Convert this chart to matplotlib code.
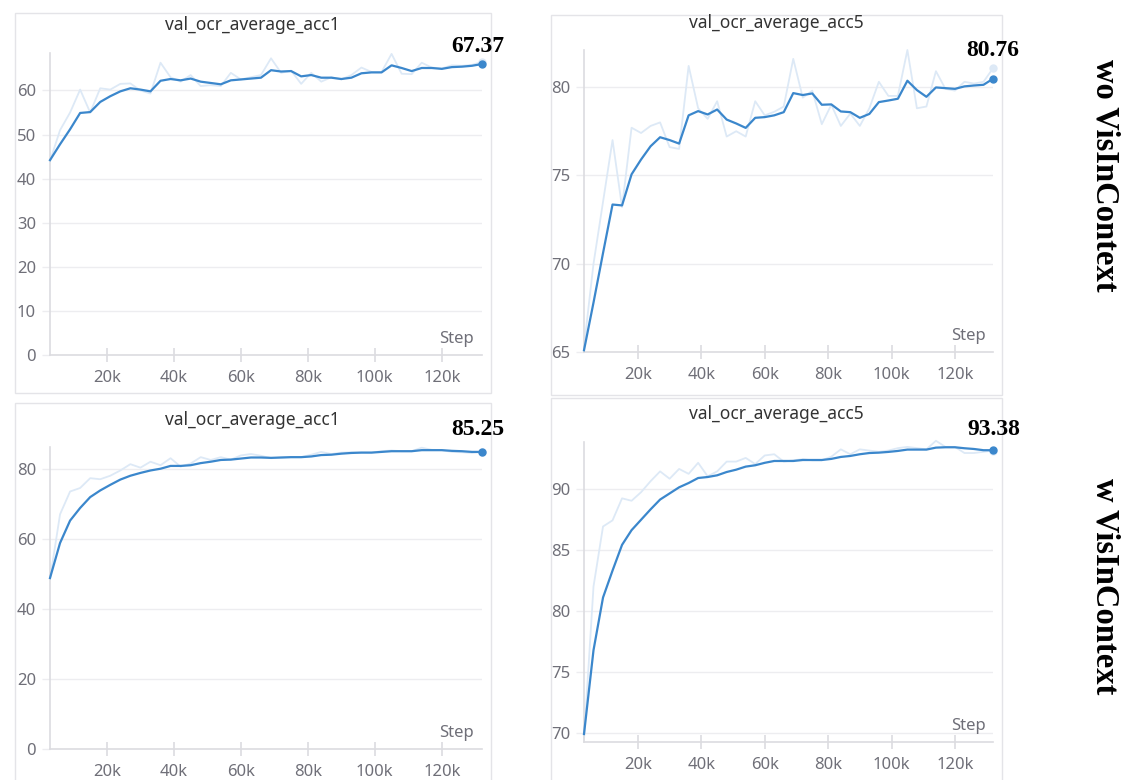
import matplotlib
matplotlib.use("Agg")
import matplotlib.pyplot as plt
from matplotlib.patches import Rectangle
from matplotlib.ticker import FuncFormatter

# step positions (thousands)
steps_k = [3, 6, 9, 12, 15, 18, 21, 24, 27, 30, 33, 36, 39, 42, 45, 48, 51, 54,
           57, 60, 63, 66, 69, 72, 75, 78, 81, 84, 87, 90, 93, 96, 99, 102, 105,
           108, 111, 114, 117, 120, 123, 126, 129, 132]

# wo VisInContext, acc1
wo_acc1_raw = [44.0, 51.0, 55.0, 60.2, 55.0, 60.5, 60.2, 61.5, 61.6, 60.0, 59.3, 66.3,
               63.0, 62.0, 63.5, 61.0, 61.2, 61.0, 64.0, 62.5, 63.0, 63.5, 67.3, 64.0,
               64.5, 61.5, 64.0, 62.0, 63.0, 62.5, 63.5, 65.2, 64.2, 64.2, 68.3, 63.8,
               63.7, 66.3, 65.2, 65.0, 65.7, 65.6, 65.8, 66.5]
wo_acc1_smooth = [44.2, 47.8, 51.2, 54.9, 55.1, 57.4, 58.7, 59.8, 60.5, 60.2, 59.8, 62.2,
                  62.6, 62.3, 62.7, 62.0, 61.7, 61.4, 62.3, 62.5, 62.7, 62.9, 64.6, 64.3,
                  64.4, 63.2, 63.5, 62.9, 62.9, 62.6, 62.9, 63.9, 64.1, 64.1, 65.7, 65.1,
                  64.4, 65.1, 65.1, 64.9, 65.3, 65.4, 65.6, 66.0]

# wo VisInContext, acc5
wo_acc5_raw = [65.3, 70.0, 73.5, 77.0, 73.2, 77.7, 77.4, 77.8, 78.0, 76.6, 76.5, 81.2,
               78.8, 78.2, 79.2, 77.2, 77.5, 77.2, 79.2, 78.4, 78.6, 78.9, 81.6, 79.4,
               79.8, 77.9, 79.0, 77.8, 78.5, 77.8, 78.8, 80.3, 79.5, 79.5, 82.1, 78.8,
               78.9, 80.9, 79.9, 79.8, 80.3, 80.2, 80.3, 81.06]
wo_acc5_smooth = [65.1, 67.8, 70.6, 73.35, 73.3, 75.06, 75.9, 76.65, 77.16, 77.0, 76.8, 78.4,
                  78.64, 78.45, 78.73, 78.16, 77.94, 77.69, 78.26, 78.3, 78.4, 78.58, 79.66, 79.55,
                  79.64, 79.0, 79.02, 78.62, 78.58, 78.26, 78.48, 79.15, 79.24, 79.34, 80.36, 79.83,
                  79.45, 79.98, 79.94, 79.9, 80.04, 80.09, 80.13, 80.47]

# w VisInContext, acc1
w_acc1_raw = [48.5, 67.0, 73.5, 74.5, 77.3, 77.0, 78.0, 79.5, 81.3, 80.3, 82.0, 81.0,
              83.0, 80.6, 81.5, 83.3, 82.5, 83.3, 82.6, 83.8, 84.2, 83.7, 83.0, 83.2,
              83.3, 83.3, 84.0, 84.8, 84.2, 84.6, 84.7, 84.6, 84.6, 85.0, 85.2, 85.0,
              85.0, 86.0, 85.4, 85.3, 84.8, 84.7, 84.5, 84.8]
w_acc1_smooth = [48.8, 58.8, 65.2, 68.8, 71.9, 73.8, 75.4, 76.9, 78.0, 78.8, 79.5, 80.0,
                 80.8, 80.8, 81.0, 81.6, 82.0, 82.5, 82.6, 82.9, 83.2, 83.2, 83.1, 83.2,
                 83.3, 83.3, 83.5, 83.9, 84.0, 84.3, 84.5, 84.6, 84.6, 84.8, 85.0, 85.0,
                 85.0, 85.3, 85.3, 85.3, 85.1, 85.0, 84.8, 84.8]

# w VisInContext, acc5
w_acc5_raw = [69.5, 82.0, 86.9, 87.4, 89.2, 89.0, 89.7, 90.6, 91.4, 90.8, 91.6, 91.2,
              92.1, 91.0, 91.4, 92.2, 92.2, 92.5, 92.0, 92.7, 92.8, 92.2, 92.3, 92.4,
              92.3, 92.3, 92.6, 93.2, 92.8, 93.2, 93.1, 93.0, 93.1, 93.3, 93.4, 93.3,
              93.2, 93.9, 93.4, 93.4, 92.9, 92.9, 93.0, 93.1]
w_acc5_smooth = [69.95, 76.8, 81.1, 83.3, 85.4, 86.6, 87.45, 88.3, 89.1, 89.6, 90.1, 90.45,
                 90.86, 90.94, 91.08, 91.35, 91.54, 91.79, 91.9, 92.1, 92.25, 92.25, 92.25, 92.33,
                 92.33, 92.33, 92.42, 92.58, 92.66, 92.8, 92.9, 92.93, 92.99, 93.07, 93.18, 93.18,
                 93.18, 93.34, 93.37, 93.37, 93.29, 93.23, 93.13, 93.13]

titles = ["val_ocr_average_acc1", "val_ocr_average_acc5",
          "val_ocr_average_acc1", "val_ocr_average_acc5"]
final_labels = ["67.37", "80.76", "85.25", "93.38"]
row_labels = ["wo VisInContext", "w VisInContext"]
yticks_list = [[0, 10, 20, 30, 40, 50, 60], [65, 70, 75, 80],
               [0, 20, 40, 60, 80], [70, 75, 80, 85, 90]]
ylims = [(0, 68.5), (65, 82.1), (0, 86.2), (69.3, 93.8)]
xticks = [20000, 40000, 60000, 80000, 100000, 120000]

W, H = 1130, 780
fig = plt.figure(figsize=(W / 100, H / 100), dpi=100)
fig.patch.set_facecolor("white")

SMOOTH = "#3b87cc"
RAW = "#dde9f6"
GRID = "#ededf0"
SPINE = "#dcdce0"
TICKC = "#6f6f78"
FONT = "Noto Sans"

# card boxes (left, top, right, bottom) in pixels and axes boxes
cards = [(15, 13, 491, 393), (551, 15, 1002, 395),
         (15, 403, 491, 790), (551, 398, 1002, 790)]
boxes = [(50, 53, 482, 355), (584, 50, 993, 352),
         (50, 447, 482, 749), (584, 442, 993, 742)]
title_pos = [(252, 25), (776, 23), (252, 420), (776, 414)]
label_pos = [(478, 47), (993, 50), (478, 429), (994, 429)]
row_pos = [(1105, 175), (1105, 586)]

series = [(wo_acc1_raw, wo_acc1_smooth), (wo_acc5_raw, wo_acc5_smooth),
          (w_acc1_raw, w_acc1_smooth), (w_acc5_raw, w_acc5_smooth)]

steps = [s * 1000 for s in steps_k]

for i in range(4):
    cl, ct, cr, cb = cards[i]
    fig.patches.append(Rectangle((cl / W, 1 - cb / H), (cr - cl) / W, (cb - ct) / H,
                                 transform=fig.transFigure, fill=False,
                                 edgecolor="#e4e4e8", linewidth=1.0))
    l, t, r, b = boxes[i]
    ax = fig.add_axes([l / W, 1 - b / H, (r - l) / W, (b - t) / H])
    raw, smooth = series[i]
    ax.plot(steps, raw, color=RAW, linewidth=1.3, zorder=2, clip_on=False)
    ax.plot(steps, smooth, color=SMOOTH, linewidth=1.6, zorder=3, clip_on=False)
    ax.plot(steps[-1], raw[-1], "o", color=RAW, markersize=5, zorder=2, clip_on=False)
    ax.plot(steps[-1], smooth[-1], "o", color=SMOOTH, markersize=5, zorder=4, clip_on=False)

    ax.set_xlim(steps[0], steps[-1])
    ax.set_ylim(*ylims[i])
    ax.set_xticks(xticks)
    ax.xaxis.set_major_formatter(FuncFormatter(lambda v, p: f"{int(v / 1000)}k"))
    ax.set_yticks(yticks_list[i])
    ax.grid(axis="y", color=GRID, linewidth=1.0)
    ax.set_axisbelow(True)
    for s in ["top", "right"]:
        ax.spines[s].set_visible(False)
    for s in ["left", "bottom"]:
        ax.spines[s].set_color(SPINE)
        ax.spines[s].set_linewidth(1.2)
    ax.tick_params(axis="x", direction="inout", length=10, width=1.2, color=SPINE,
                   labelcolor=TICKC, labelsize=12, pad=6)
    ax.tick_params(axis="y", length=6, width=1.0, color=GRID,
                   labelcolor=TICKC, labelsize=12, pad=4)
    for lab in ax.get_xticklabels() + ax.get_yticklabels():
        lab.set_fontfamily(FONT)

    ax.text(0.982, 0.025, "Step", transform=ax.transAxes, ha="right", va="bottom",
            color=TICKC, fontsize=12, family=FONT)

    # panel title
    tx, ty = title_pos[i]
    fig.text(tx / W, 1 - ty / H, titles[i], ha="center", va="center",
             fontsize=12.5, color="#333333", family=FONT)

    # final value label
    lx, ly = label_pos[i]
    fig.text(lx / W, 1 - ly / H, final_labels[i], ha="center", va="center",
             fontsize=17, fontweight="bold", family="Liberation Serif", color="black")

for (rx, ry), txt in zip(row_pos, row_labels):
    fig.text(rx / W, 1 - ry / H, txt, rotation=-90, ha="center", va="center",
             fontsize=23.5, fontweight="bold", family="Liberation Serif")

fig.savefig("out.png", dpi=100)
